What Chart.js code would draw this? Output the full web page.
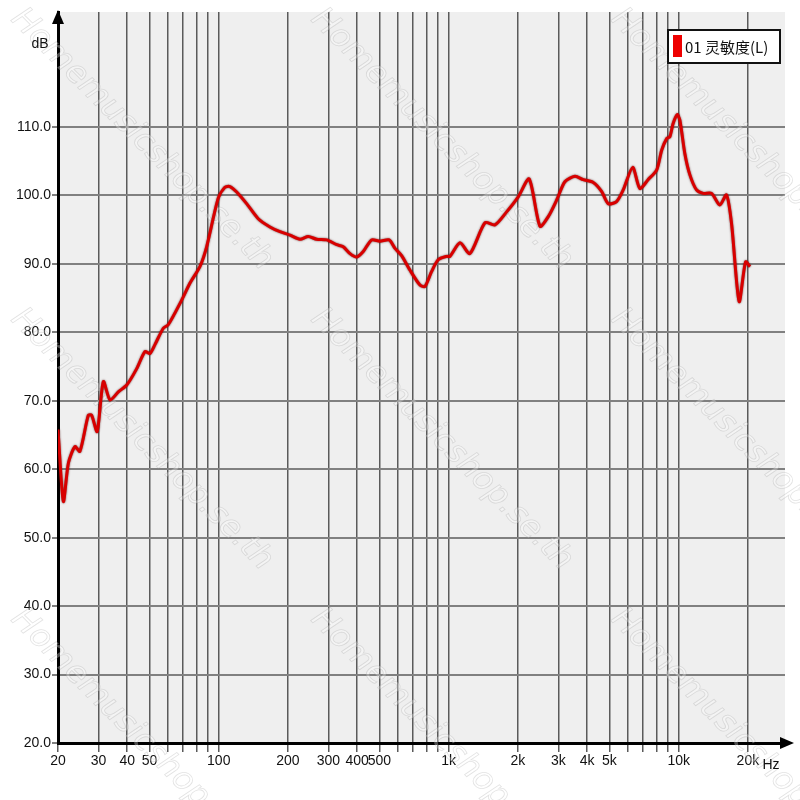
<!DOCTYPE html>
<html>
<head>
<meta charset="utf-8">
<script src="https://cdn.jsdelivr.net/npm/chart.js@4"></script>
<style>
  html, body { margin: 0; padding: 0; background: #fff; }
  #wrap { width: 800px; height: 800px; }
</style>
</head>
<body>
<div id="wrap"><canvas id="chart" width="800" height="800"></canvas></div>
<script>
// -------------------------------
// DATA
// -------------------------------

const seriesLabel = "01 灵敏度(L)";

// frequency (Hz)
const freqHz = [
  20, 21.1, 22.2, 23.7, 24.9, 27.1, 28, 29.6, 31.5, 33.7, 36.6, 39.8, 44, 47.8, 50.2, 52.8,
  57.4, 60.3, 69, 75, 82.8, 88.6, 99.5, 106.4, 111.9, 119.7, 132.2, 148.5, 167, 184.6, 204,
  225.6, 245, 266.6, 294.6, 325.8, 347.8, 372.4, 398, 425, 462, 502, 551, 583, 624, 678,
  750, 788, 843, 900, 980, 1012, 1120, 1236, 1438, 1589, 1786, 2006, 2238, 2494, 2710,
  2946, 3200, 3540, 3846, 4250, 4622, 4942, 5370, 5740, 6310, 6780, 7360, 8020, 8434,
  8870, 9160, 9460, 9860, 10120, 10640, 11190, 11960, 12780, 13900, 15100, 16140, 16980,
  18320, 19540, 20420
];

// sound pressure level (dB)
const splDb = [
  65.8, 55.3, 60.9, 63.3, 62.6, 67.9, 67.9, 65.5, 72.8, 70.1, 71.3, 72.3, 74.7, 77.2, 76.9, 78.2,
  80.6, 81.1, 84.7, 87.2, 89.6, 92.5, 99.6, 101.2, 101.3, 100.5, 98.8, 96.6, 95.4, 94.7, 94.2,
  93.6, 94.0, 93.6, 93.5, 92.8, 92.5, 91.5, 91.0, 91.8, 93.5, 93.3, 93.5, 92.3, 91.2, 89.1,
  86.9, 86.7, 88.9, 90.6, 91.1, 91.1, 93.1, 91.5, 96.0, 95.7, 97.6, 99.8, 102.4, 95.5, 96.9,
  99.3, 102.0, 102.8, 102.3, 101.9, 100.6, 98.8, 99.1, 100.8, 104.1, 101.0, 102.3, 103.7, 106.6,
  108.3, 108.6, 110.5, 111.8, 111.0, 106.1, 103.0, 100.8, 100.3, 100.3, 98.6, 100.1, 95.9,
  84.5, 90.3, 89.6
];

// x grid lines and the ones that carry a label
const gridFreqs = [
  20, 30, 40, 50, 60, 70, 80, 90, 100, 200, 300, 400, 500, 600, 700, 800, 900,
  1000, 2000, 3000, 4000, 5000, 6000, 7000, 8000, 9000, 10000, 20000
];
const labeledFreqs = [20, 30, 40, 50, 100, 200, 300, 400, 500, 1000, 2000, 3000, 4000, 5000, 10000, 20000];
const freqTickLabels = ["20", "30", "40", "50", "100", "200", "300", "400", "500", "1k", "2k", "3k", "4k", "5k", "10k", "20k"];

const dbTicks = [20, 30, 40, 50, 60, 70, 80, 90, 100, 110];


// -------------------------------
// PLUGINS
// -------------------------------

// grey plot background
const plotBg = {
  id: "plotBg",
  beforeDraw(chart) {
    const { ctx, chartArea: a } = chart;
    ctx.save();
    ctx.fillStyle = "#efefef";
    ctx.fillRect(a.left, a.top, a.right - a.left, a.bottom - a.top);
    ctx.restore();
  }
};

// faint diagonal watermark
const watermark = {
  id: "watermark",
  beforeDatasetsDraw(chart) {
    const ctx = chart.ctx;
    ctx.save();
    ctx.font = "italic 32px 'DejaVu Sans'";
    ctx.lineWidth = 0.8;
    ctx.strokeStyle = "rgba(150,150,150,0.28)";
    ctx.fillStyle = "rgba(255,255,255,0.3)";
    [10, 310, 610].forEach(x => {
      [20, 320, 620].forEach(y => {
        ctx.save();
        ctx.translate(x, y);
        ctx.rotate(Math.PI / 4);
        ctx.fillText("Homemusicshop.se.th", 0, 0);
        ctx.strokeText("Homemusicshop.se.th", 0, 0);
        ctx.restore();
      });
    });
    ctx.restore();
  }
};

// darker edge round the red line
const lineEdge = {
  id: "lineEdge",
  beforeDatasetDraw(chart) {
    const ctx = chart.ctx;
    ctx.save();
    ctx.shadowColor = "rgba(70,0,0,0.75)";
    ctx.shadowBlur = 2;
  },
  afterDatasetDraw(chart) {
    chart.ctx.restore();
  }
};

// axis arrows, unit labels, legend box
const decorations = {
  id: "decorations",
  afterDraw(chart) {
    const { ctx, chartArea: a } = chart;
    ctx.save();

    // arrows
    ctx.fillStyle = "#000";
    ctx.strokeStyle = "#000";
    ctx.lineWidth = 3;
    ctx.beginPath();
    ctx.moveTo(a.right - 2, a.bottom);
    ctx.lineTo(784, a.bottom);
    ctx.stroke();
    ctx.beginPath();
    ctx.moveTo(794, a.bottom);
    ctx.lineTo(780, a.bottom - 6);
    ctx.lineTo(780, a.bottom + 6);
    ctx.closePath();
    ctx.fill();

    ctx.beginPath();
    ctx.moveTo(a.left, 10);
    ctx.lineTo(a.left - 6, 24);
    ctx.lineTo(a.left + 6, 24);
    ctx.closePath();
    ctx.fill();

    // unit labels
    ctx.fillStyle = "#111";
    ctx.font = "14px 'Liberation Sans Narrow', 'Liberation Sans'";
    ctx.textAlign = "center";
    ctx.textBaseline = "middle";
    ctx.fillText("dB", 40, 44);
    ctx.fillText("Hz", 771, 765);

    // legend
    const lx = 668, ly = 30, lw = 112, lh = 33;
    ctx.fillStyle = "#fff";
    ctx.fillRect(lx, ly, lw, lh);
    ctx.lineWidth = 2;
    ctx.strokeStyle = "#111";
    ctx.strokeRect(lx, ly, lw, lh);
    ctx.fillStyle = "#ee0000";
    ctx.fillRect(lx + 5, ly + 5, 9, 22);
    ctx.fillStyle = "#111";
    ctx.font = "15px 'Noto Sans CJK SC'";
    ctx.textAlign = "left";
    ctx.fillText(seriesLabel, lx + 17, ly + 17);

    ctx.restore();
  }
};


// -------------------------------
// CHART
// -------------------------------

const points = freqHz.map((f, i) => ({ x: f, y: splDb[i] }));
const tickFont = { family: "'Liberation Sans Narrow', 'Liberation Sans', sans-serif", size: 14 };

new Chart(document.getElementById("chart").getContext("2d"), {
  type: "line",
  data: {
    datasets: [{
      label: seriesLabel,
      data: points,
      borderColor: "#d80000",
      borderWidth: 3,
      pointRadius: 0,
      tension: 0.25,
      fill: false
    }]
  },
  options: {
    responsive: false,
    animation: false,
    layout: { padding: { top: 12, right: 15, left: 0, bottom: 0 } },
    plugins: {
      legend: { display: false },
      tooltip: { enabled: false }
    },
    scales: {
      x: {
        type: "logarithmic",
        min: 20,
        max: 29000,
        afterBuildTicks: axis => { axis.ticks = gridFreqs.map(v => ({ value: v })); },
        afterFit: axis => { axis.height = 57; },
        ticks: {
          autoSkip: false,
          maxRotation: 0,
          color: "#111",
          font: tickFont,
          padding: 1,
          callback: v => {
            const i = labeledFreqs.indexOf(v);
            return i >= 0 ? freqTickLabels[i] : "";
          }
        },
        grid: { color: "#5a5a5a", lineWidth: 1.5, tickLength: 9 },
        border: { color: "#000", width: 3 }
      },
      y: {
        min: 20,
        max: 126.8,
        afterBuildTicks: axis => { axis.ticks = dbTicks.map(v => ({ value: v })); },
        afterFit: axis => { axis.width = 58; },
        ticks: {
          color: "#111",
          font: tickFont,
          padding: 1,
          callback: v => v.toFixed(1)
        },
        grid: { color: "#808080", lineWidth: 2, tickLength: 6 },
        border: { color: "#000", width: 3 }
      }
    }
  },
  plugins: [plotBg, watermark, lineEdge, decorations]
});
</script>
</body>
</html>
